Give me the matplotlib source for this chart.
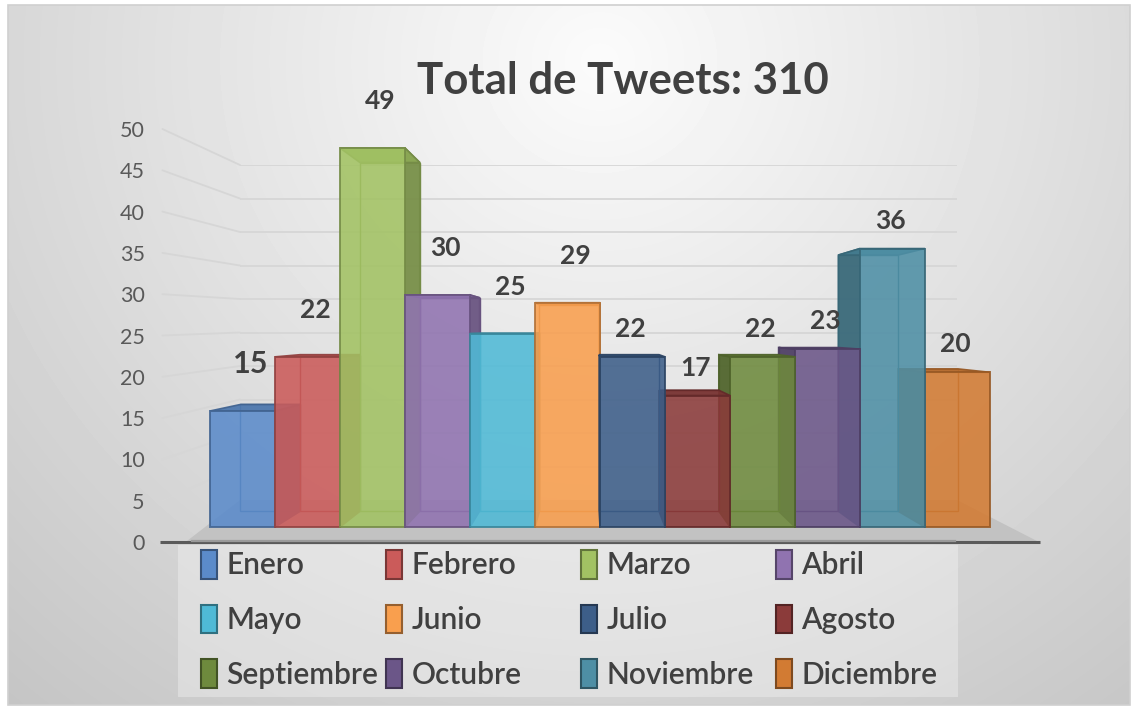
import numpy as np
import matplotlib
matplotlib.use("Agg")
import matplotlib.pyplot as plt
import matplotlib.colors as mcolors
from matplotlib.patches import Polygon, Patch, Rectangle, ConnectionPatch

# ---------------- data ----------------
months = ["Enero", "Febrero", "Marzo", "Abril", "Mayo", "Junio",
          "Julio", "Agosto", "Septiembre", "Octubre", "Noviembre", "Diciembre"]
tweets = [15, 22, 49, 30, 25, 29, 22, 17, 22, 23, 36, 20]
colors = ["#5B8BCA", "#CB5B5A", "#A2C263", "#9073B0", "#4FBAD6", "#F99F4E",
          "#3D5E89", "#8B3B3A", "#6E8A3D", "#6B5688", "#4E8FA5", "#D27B33"]
yticks = [0, 5, 10, 15, 20, 25, 30, 35, 40, 45, 50]
title = "Total de Tweets: 310"

FONT = ["Lato", "DejaVu Sans"]
plt.rcParams["font.family"] = FONT
TXT = "#404040"

W, H = 1137, 711
fig = plt.figure(figsize=(W / 100, H / 100), dpi=100)
fig.patch.set_facecolor("white")


def fx(px):
    return px / W


def fy(py):
    return 1 - py / H


def shade(c, f):
    r, g, b = mcolors.to_rgb(c)
    return (r * f, g * f, b * f)


# ---------------- background ----------------
ax_bg = fig.add_axes([0, 0, 1, 1])
ax_bg.set_xlim(0, W)
ax_bg.set_ylim(H, 0)
ax_bg.axis("off")
gx, gy = np.meshgrid(np.linspace(8, 1130, 300), np.linspace(5, 705, 200))
r = np.sqrt((gx - 600) ** 2 + ((gy - 60) * 1.05) ** 2) / 800
g = np.clip(0.985 - 0.19 * r, 0, 1)
ax_bg.imshow(g, cmap="gray", vmin=0, vmax=1, extent=(8, 1130, 705, 5),
             aspect="auto", zorder=0, interpolation="bilinear")
ax_bg.add_patch(Rectangle((8, 5), 1122, 700, fill=False, ec="#D0D0D0", lw=1.2, zorder=1))
# floor
ax_bg.add_patch(Polygon([(187, 541), (240, 500), (957, 500), (1037, 541)],
                        closed=True, fc="#C2C2C2", ec="none", zorder=2))
ax_bg.plot([160, 1040], [541.5, 541.5], color="#5A5A5A", lw=2.2, zorder=3,
           solid_capstyle="butt")
ax_bg.plot([192, 955], [540.5, 540.5], color="#9A9A9A", lw=1.6, zorder=3.1)
# legend box
ax_bg.add_patch(Rectangle((178, 545), 780, 152, fc="white", alpha=0.3, ec="none", zorder=2))

# ---------------- tick axis & back wall ----------------
ax_t = fig.add_axes([fx(160), fy(542), fx(240) - fx(160), fy(129) - fy(542)])
ax_t.set_facecolor("none")
ax_t.set_xlim(0, 1)
ax_t.set_ylim(0, 50)
ax_t.set_yticks(yticks)
ax_t.set_xticks([])
for s in ax_t.spines.values():
    s.set_visible(False)
ax_t.tick_params(axis="y", length=0, pad=11, labelsize=15.5, labelcolor="#595959")

ax_w = fig.add_axes([fx(240), fy(500), fx(957) - fx(240), fy(165) - fy(500)])
ax_w.set_facecolor("none")
ax_w.set_xlim(0, 1)
ax_w.set_ylim(0, 50)
ax_w.axis("off")
grid_c = "#D6D6D6"
for v in yticks[1:]:
    ax_w.plot([0, 1], [v, v], color=grid_c, lw=1.3)
    con = ConnectionPatch(xyA=(0.03, v), coordsA=ax_t.transData,
                          xyB=(0, v), coordsB=ax_w.transData,
                          color=grid_c, lw=1.3)
    ax_w.add_artist(con)

# ---------------- bars (pseudo 3D) ----------------
ax = fig.add_axes([fx(210), fy(527), fx(990) - fx(210), fy(101.6) - fy(527)])
ax.set_facecolor("none")
ax.set_xlim(0, 12)
ax.set_ylim(0, 55)
ax.axis("off")

VX, VY, K = 5.85, 25.5, 0.08


def proj(x, y):
    return (x + K * (VX - x), y + K * (VY - y))


n = len(tweets)
left = [i for i in range(n) if i + 0.5 < VX]
right = [i for i in range(n) if i + 0.5 >= VX][::-1]
order = left + right
z = 5
for i in order:
    v = tweets[i]
    c = colors[i]
    ec = shade(c, 0.72)
    x0, x1 = i, i + 1
    b00, b10, b11, b01 = proj(x0, 0), proj(x1, 0), proj(x1, v), proj(x0, v)
    # hidden back edges
    ax.add_patch(Polygon([b00, b10, b11, b01], closed=True, fill=False,
                         ec=ec, lw=1.0, zorder=z, clip_on=False))
    if i + 0.5 < VX:
        side = [(x1, 0), (x1, v), b11, b10]
    else:
        side = [(x0, 0), (x0, v), b01, b00]
    ax.add_patch(Polygon(side, closed=True, fc=shade(c, 0.74), ec=ec, lw=1.2,
                         alpha=0.95, zorder=z + 1, clip_on=False))
    ax.add_patch(Polygon([(x0, v), (x1, v), b11, b01], closed=True,
                         fc=shade(c, 0.86), ec=ec, lw=1.2, alpha=0.95,
                         zorder=z + 2, clip_on=False))
    ax.bar(x0 + 0.5, v, width=1.0, color=c, alpha=0.88, edgecolor=ec,
           linewidth=1.4, zorder=z + 3, clip_on=False)
    z += 4

for i, v in enumerate(tweets):
    if i + 0.5 < VX:
        dx, dy = 8, 47
    else:
        dx, dy = -2, 28
    ax.annotate(str(v), (i + 0.5, v), xytext=(dx, dy), textcoords="offset pixels",
                ha="center", va="center", fontsize=22 if i == 0 else 19,
                fontweight="bold", color=TXT, zorder=200)

# ---------------- title ----------------
fig.text(fx(623), fy(81), title, ha="center", va="center", fontsize=31.5,
         fontweight="bold", color=TXT)

# ---------------- legend (4 equal-width columns, row-major order) ----------------
col_x = [201, 386, 581, 776]
ncols = 4
for c_i, xpx in enumerate(col_x):
    idx = list(range(c_i, len(months), ncols))
    handles = [Patch(facecolor=colors[j], edgecolor=shade(colors[j], 0.6), lw=1.5)
               for j in idx]
    labels = [months[j] for j in idx]
    fig.legend(handles, labels, loc="upper left",
               bbox_to_anchor=(fx(xpx), fy(550)), frameon=False,
               prop={"size": 21.5, "weight": "semibold"},
               labelcolor=TXT, handlelength=0.52, handleheight=1.1,
               handletextpad=0.33, labelspacing=0.84,
               borderaxespad=0, borderpad=0)

fig.savefig("out.png", dpi=100)
